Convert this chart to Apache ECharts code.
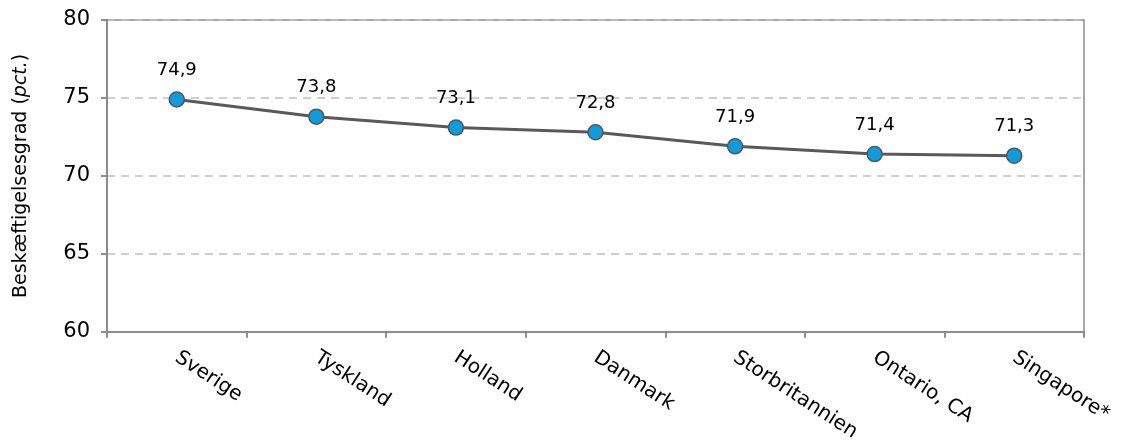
<!DOCTYPE html>
<html>
<head>
<meta charset="utf-8">
<script src="https://cdn.jsdelivr.net/npm/echarts@6/dist/echarts.min.js"></script>
<style>
  html, body { margin: 0; padding: 0; background: #fff; }
  #chart { width: 1126px; height: 444px; }
</style>
</head>
<body>
<div id="chart"></div>
<script>
// lande og beskæftigelsesgrad
var categories = ['Sverige', 'Tyskland', 'Holland', 'Danmark', 'Storbritannien', 'Ontario, CA', 'Singapore*']
var values = [74.9, 73.8, 73.1, 72.8, 71.9, 71.4, 71.3]
var yTicks = [60, 65, 70, 75, 80]

var font = 'Verdana, "DejaVu Sans", sans-serif'

var chart = echarts.init(document.getElementById('chart'))
chart.setOption({
  backgroundColor: '#fff',
  animation: false,
  grid: {
    left: 107,
    right: 42,
    top: 20,
    bottom: 111,
    show: true,
    borderColor: '#8c8c8c',
    borderWidth: 1.5
  },
  xAxis: {
    type: 'category',
    boundaryGap: true,
    data: categories,
    axisLine: { lineStyle: { color: '#8c8c8c', width: 2 } },
    axisTick: { show: true, length: 6, lineStyle: { color: '#8c8c8c', width: 2 } },
    axisLabel: {
      rotate: -33,
      margin: 24,
      color: '#000',
      fontSize: 20,
      fontFamily: font
    }
  },
  yAxis: {
    type: 'value',
    min: yTicks[0],
    max: yTicks[yTicks.length - 1],
    interval: 5,
    name: '{n|Beskæftigelsesgrad (}{i|pct.}{n|)}',
    nameLocation: 'middle',
    nameGap: 76,
    nameTextStyle: {
      rich: {
        n: { fontSize: 19, color: '#000', fontFamily: font },
        i: { fontSize: 19, color: '#000', fontFamily: font, fontStyle: 'italic' }
      }
    },
    axisLine: { show: true, lineStyle: { color: '#8c8c8c', width: 2 } },
    axisTick: { show: true, length: 6, lineStyle: { color: '#8c8c8c', width: 2 } },
    axisLabel: { color: '#000', fontSize: 21, fontFamily: font, margin: 17 },
    splitLine: { lineStyle: { color: '#c0c0c0', type: [8, 6], width: 1.5 } }
  },
  series: [{
    type: 'line',
    data: values,
    symbol: 'circle',
    symbolSize: 15,
    lineStyle: { color: '#595959', width: 3 },
    itemStyle: { color: '#0a9ee0', borderColor: '#555', borderWidth: 1.5 },
    label: {
      show: true,
      position: 'top',
      distance: 12,
      color: '#000',
      fontSize: 18,
      fontFamily: font,
      formatter: function (p) { return String(p.value).replace('.', ',') }
    }
  }]
})
</script>
</body>
</html>
